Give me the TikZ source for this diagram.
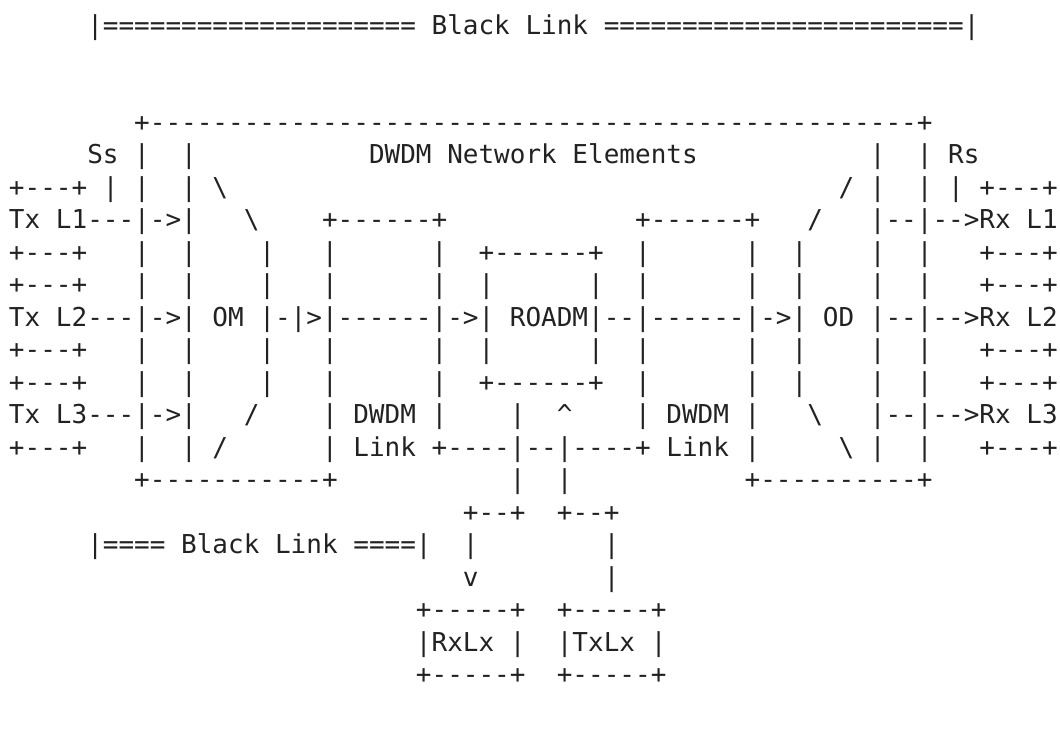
\documentclass[tikz,border=0pt]{standalone}
\usepackage{fontspec}
\newfontfamily\asc[Ligatures=TeXOff]{DejaVu Sans Mono}
\definecolor{ink}{HTML}{222222}
\newlength\cw
\setlength\cw{15.653pt}
\newcommand\sk[1]{\hspace*{#1\cw}}
\newcommand\myBS{\textbackslash}
\newcommand\myHat{\textasciicircum}
\tikzset{txt/.style={anchor=base west, inner sep=0pt, outer sep=0pt, text=ink, font={\asc\fontsize{26pt}{32pt}\selectfont}}}
\newcommand\arow[3]{\node[txt] (#1) at (9,{-34.1-#2*32.47}) {#3};}
\begin{document}
\begin{tikzpicture}[x=1pt,y=1pt]
\fill[white] (0,0) rectangle (1060,-737);
\useasboundingbox (0,0) rectangle (1060,-737);
\arow{title}{0}{\sk{5}|====================~Black~Link~=======================|}
\arow{rA}{3}{\sk{8}+-------------------------------------------------+}
\arow{rB}{4}{\sk{5}Ss~|\sk{2}|\sk{11}DWDM~Network~Elements\sk{11}|\sk{2}|~Rs}
\arow{rC}{5}{+---+~|~|\sk{2}|~\myBS\sk{39}/~|\sk{2}|~|~+---+}
\arow{rD}{6}{Tx~L1---|->|\sk{3}\myBS\sk{4}+------+\sk{12}+------+\sk{3}/\sk{3}|--|-->Rx~L1}
\arow{rE}{7}{+---+\sk{3}|\sk{2}|\sk{4}|\sk{3}|\sk{6}|\sk{2}+------+\sk{2}|\sk{6}|\sk{2}|\sk{4}|\sk{2}|\sk{3}+---+}
\arow{rF}{8}{+---+\sk{3}|\sk{2}|\sk{4}|\sk{3}|\sk{6}|\sk{2}|\sk{6}|\sk{2}|\sk{6}|\sk{2}|\sk{4}|\sk{2}|\sk{3}+---+}
\arow{rG}{9}{Tx~L2---|->|~OM~|-|>|------|->|~ROADM|--|------|->|~OD~|--|-->Rx~L2}
\arow{rH}{10}{+---+\sk{3}|\sk{2}|\sk{4}|\sk{3}|\sk{6}|\sk{2}|\sk{6}|\sk{2}|\sk{6}|\sk{2}|\sk{4}|\sk{2}|\sk{3}+---+}
\arow{rI}{11}{+---+\sk{3}|\sk{2}|\sk{4}|\sk{3}|\sk{6}|\sk{2}+------+\sk{2}|\sk{6}|\sk{2}|\sk{4}|\sk{2}|\sk{3}+---+}
\arow{rJ}{12}{Tx~L3---|->|\sk{3}/\sk{4}|~DWDM~|\sk{4}|\sk{2}\myHat\sk{4}|~DWDM~|\sk{3}\myBS\sk{3}|--|-->Rx~L3}
\arow{rK}{13}{+---+\sk{3}|\sk{2}|~/\sk{6}|~Link~+----|--|----+~Link~|\sk{5}\myBS~|\sk{2}|\sk{3}+---+}
\arow{rL}{14}{\sk{8}+-----------+\sk{11}|\sk{2}|\sk{11}+----------+}
\arow{rM}{15}{\sk{29}+--+\sk{2}+--+}
\arow{rN}{16}{\sk{5}|====~Black~Link~====|\sk{2}|\sk{8}|}
\arow{rO}{17}{\sk{29}v\sk{8}|}
\arow{rP}{18}{\sk{26}+-----+\sk{2}+-----+}
\arow{rQ}{19}{\sk{26}|RxLx~|\sk{2}|TxLx~|}
\arow{rR}{20}{\sk{26}+-----+\sk{2}+-----+}
\end{tikzpicture}
\end{document}
